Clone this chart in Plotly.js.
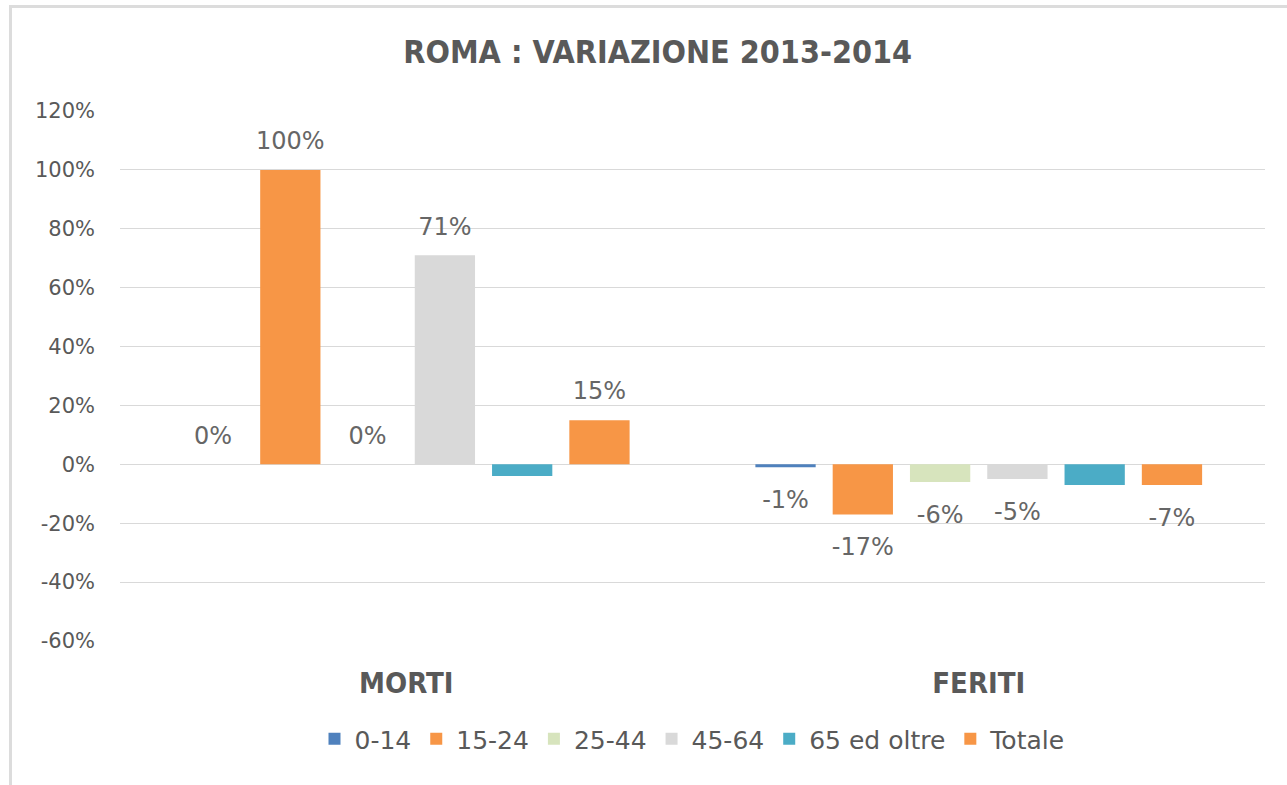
<!DOCTYPE html>
<html>
<head>
<meta charset="utf-8">
<script src="https://cdn.plot.ly/plotly-3.0.1.min.js"></script>
<style>
  html, body { margin: 0; padding: 0; background: #fff; }
  #chart { position: absolute; left: 0; top: 0; width: 1287px; height: 785px; }
  #bt { position: absolute; left: 9px; top: 5px; width: 1278px; height: 3px; background: #dcdcdc; }
  #bl { position: absolute; left: 9px; top: 5px; width: 3px; height: 780px; background: #dcdcdc; }
</style>
</head>
<body>
<div id="chart"></div>
<div id="bt"></div>
<div id="bl"></div>
<script>
const categories = ["MORTI", "FERITI"];
const seriesNames = ["0-14", "15-24", "25-44", "45-64", "65 ed oltre", "Totale"];
const v0_14 = [0, -1];
const v15_24 = [100, -17];
const v25_44 = [0, -6];
const v45_64 = [71, -5];
const v65 = [-4, -7];
const vTotale = [15, -7];
const seriesValues = [v0_14, v15_24, v25_44, v45_64, v65, vTotale];
const seriesLabelled = [true, true, true, true, false, true];
const colors = ["#4f81bd", "#f79646", "#d7e4bd", "#d9d9d9", "#4bacc6", "#f79646"];
const yTickVals = [-60, -40, -20, 0, 20, 40, 60, 80, 100, 120];
const yTickText = ["-60%", "-40%", "-20%", "0%", "20%", "40%", "60%", "80%", "100%", "120%"];

const barTraces = seriesNames.map((name, i) => ({
  type: "bar",
  name: name,
  x: categories,
  y: seriesValues[i],
  offsetgroup: "g" + i,
  marker: { color: colors[i] },
  hoverinfo: "none"
}));

// data labels, aligned with bars through scatter grouping; invisible marker gives the label padding
const labelTraces = seriesNames.map((name, i) => ({
  type: "scatter",
  mode: "markers+text",
  name: name + " labels",
  showlegend: false,
  x: categories,
  y: seriesValues[i],
  offsetgroup: "g" + i,
  text: seriesValues[i].map(v => seriesLabelled[i] ? v + "%" : ""),
  textposition: seriesValues[i].map(v => v >= 0 ? "top center" : "bottom center"),
  textfont: { family: "DejaVu Sans", size: 24, color: "#666666" },
  marker: { size: seriesValues[i].map(v => v >= 0 ? 22 : 35), opacity: 0, color: "#ffffff" },
  cliponaxis: false,
  hoverinfo: "none"
}));

const layout = {
  width: 1287,
  height: 785,
  margin: { l: 120, r: 22, t: 111, b: 144 },
  paper_bgcolor: "rgba(0,0,0,0)",
  plot_bgcolor: "#ffffff",
  title: {
    text: "ROMA : VARIAZIONE 2013-2014",
    font: { family: "DejaVu Sans Condensed", size: 32, color: "#595959", weight: "bold" },
    x: 0.511, xanchor: "center", y: 0.934, yanchor: "middle"
  },
  barmode: "group",
  bargap: 0.19,
  bargroupgap: 0.22,
  scattermode: "group",
  scattergap: 0.19,
  xaxis: {
    type: "category",
    tickfont: { family: "DejaVu Sans Condensed", size: 29, color: "#595959", weight: "bold" },
    showline: false,
    ticks: "",
    ticklabelstandoff: 22,
    automargin: false
  },
  yaxis: {
    range: [-60, 120],
    tickmode: "array",
    tickvals: yTickVals,
    ticktext: yTickText,
    tickfont: { family: "DejaVu Sans", size: 21, color: "#595959" },
    gridcolor: "#d9d9d9",
    gridwidth: 1,
    zeroline: true,
    zerolinecolor: "#d9d9d9",
    zerolinewidth: 1,
    showline: false,
    ticks: "",
    ticklabelstandoff: 24,
    automargin: false
  },
  showlegend: true,
  legend: {
    orientation: "h",
    x: 0.5, xanchor: "center",
    y: -0.185, yanchor: "middle",
    font: { family: "DejaVu Sans", size: 25, color: "#595959" },
    itemwidth: 30,
    traceorder: "normal"
  }
};

Plotly.newPlot("chart", barTraces.concat(labelTraces), layout, { displayModeBar: false, staticPlot: true });
</script>
</body>
</html>
